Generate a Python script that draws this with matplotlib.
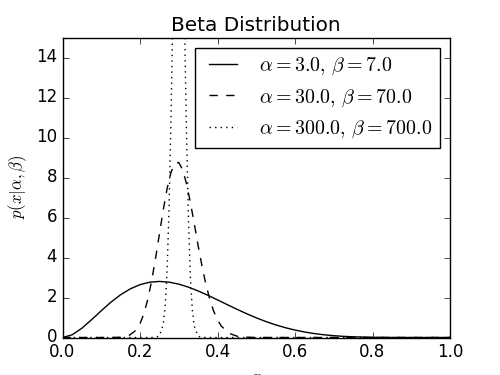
import matplotlib
matplotlib.use("Agg")
import matplotlib.pyplot as plt

plt.style.use("classic")
plt.rcParams["mathtext.fontset"] = "cm"

# alpha=3, beta=7
x_a = [0.0, 0.025, 0.05, 0.075, 0.1, 0.125, 0.15, 0.175, 0.2, 0.225, 0.25,
       0.275, 0.3, 0.325, 0.35, 0.375, 0.4, 0.425, 0.45, 0.475, 0.5, 0.525,
       0.55, 0.575, 0.6, 0.625, 0.65, 0.675, 0.7, 0.725, 0.75, 0.8, 0.85,
       0.9, 0.95, 1.0]
p_a = [0.0, 0.135, 0.463, 0.888, 1.339, 1.767, 2.138, 2.433, 2.642, 2.765,
       2.803, 2.767, 2.668, 2.518, 2.328, 2.112, 1.881, 1.645, 1.413, 1.191,
       0.984, 0.797, 0.633, 0.491, 0.372, 0.274, 0.196, 0.135, 0.090, 0.057,
       0.035, 0.010, 0.002, 0.0002, 0.0, 0.0]

# alpha=30, beta=70
x_b = [0.0, 0.1, 0.15, 0.17, 0.19, 0.2, 0.21, 0.22, 0.23, 0.24, 0.25, 0.26,
       0.27, 0.28, 0.29, 0.3, 0.31, 0.32, 0.33, 0.34, 0.35, 0.36, 0.37, 0.38,
       0.39, 0.4, 0.41, 0.43, 0.45, 0.47, 0.5, 0.6, 1.0]
p_b = [0.0, 0.0, 0.011, 0.078, 0.365, 0.687, 1.187, 1.899, 2.831, 3.94,
       5.163, 6.38, 7.45, 8.26, 8.71, 8.75, 8.39, 7.69, 6.76, 5.69, 4.59,
       3.57, 2.666, 1.914, 1.324, 0.883, 0.566, 0.209, 0.066, 0.018, 0.002,
       0.0, 0.0]

# alpha=300, beta=700
x_c = [0.0, 0.2, 0.22, 0.24, 0.25, 0.26, 0.265, 0.27, 0.275, 0.28, 0.285,
       0.29, 0.295, 0.3, 0.305, 0.31, 0.315, 0.32, 0.325, 0.33, 0.335, 0.34,
       0.35, 0.36, 0.38, 0.4, 1.0]
p_c = [0.0, 0.0, 0.0, 0.006, 0.078, 0.654, 1.58, 3.40, 6.49, 11.0, 16.5,
       22.1, 26.2, 27.5, 25.7, 21.3, 15.6, 10.2, 5.91, 3.04, 1.39, 0.561,
       0.064, 0.005, 0.0, 0.0, 0.0]

labels = [r"$\alpha=3.0,\,\beta=7.0$",
          r"$\alpha=30.0,\,\beta=70.0$",
          r"$\alpha=300.0,\,\beta=700.0$"]

fig, ax = plt.subplots(figsize=(5, 3.75), dpi=100)
ax.plot(x_a, p_a, ls="-", c="black", label=labels[0])
ax.plot(x_b, p_b, ls="--", c="black", label=labels[1])
ax.plot(x_c, p_c, ls=":", c="black", label=labels[2])

ax.set_xlim(0, 1)
ax.set_ylim(0, 15)
ax.set_xlabel("$x$")
ax.set_ylabel(r"$p(x|\alpha,\beta)$")
ax.set_title("Beta Distribution")
ax.legend(loc="upper right")

fig.savefig("out.png", dpi=100)
